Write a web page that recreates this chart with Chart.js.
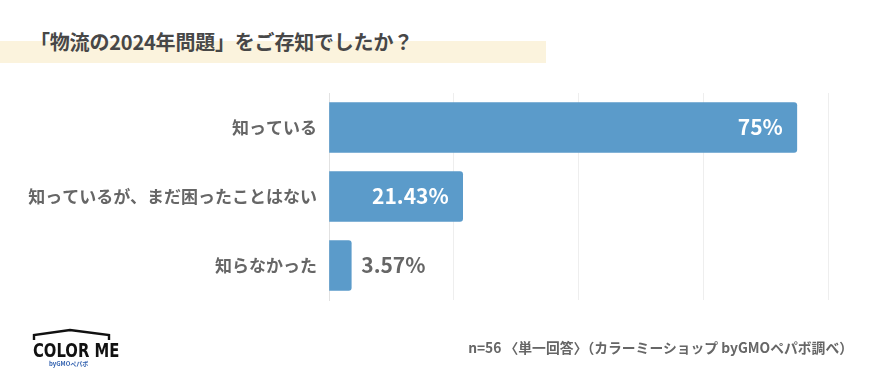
<!DOCTYPE html>
<html lang="ja">
<head>
<meta charset="utf-8">
<script src="https://cdn.jsdelivr.net/npm/chart.js@4/dist/chart.umd.min.js"></script>
<style>
    html, body {
        margin: 0;
        padding: 0;
        background: #ffffff;
    }

    #page {
        position: relative;
        width: 885px;
        height: 379px;
        overflow: hidden;
        font-family: "Noto Sans CJK JP", "Noto Sans", sans-serif;
    }

    #band {
        position: absolute;
        left: 0;
        top: 41px;
        width: 546px;
        height: 22px;
        background: #fbf3dd;
    }

    #title {
        position: absolute;
        left: 30px;
        top: 28px;
        font-size: 20px;
        font-weight: 700;
        color: #474747;
        white-space: nowrap;
        line-height: 28px;
        letter-spacing: -0.2px;
    }

    #chartBox {
        position: absolute;
        left: 0;
        top: 0;
        width: 885px;
        height: 379px;
    }

    #note {
        position: absolute;
        right: 32px;
        top: 337px;
        font-size: 13.8px;
        font-weight: 700;
        color: #666666;
        white-space: nowrap;
        line-height: 20px;
    }

    #logo {
        position: absolute;
        left: 30px;
        top: 327px;
        width: 86px;
        height: 40px;
    }

    #logo .name {
        position: absolute;
        left: 3px;
        top: 13px;
        font-family: "DejaVu Sans", sans-serif;
        font-size: 20px;
        font-weight: 700;
        color: #111111;
        line-height: 20px;
        white-space: nowrap;
        transform: scaleX(0.74);
        transform-origin: 0 0;
    }

    #logo .by {
        position: absolute;
        left: 19px;
        top: 33px;
        font-size: 6px;
        font-weight: 700;
        color: #2f5fae;
        line-height: 7px;
        white-space: nowrap;
    }
</style>
</head>
<body>
<div id="page">
    <div id="band"></div>
    <div id="title">「物流の2024年問題」をご存知でしたか？</div>

    <div id="chartBox"><canvas id="chart"></canvas></div>

    <div id="logo">
        <svg width="86" height="14" style="position:absolute;left:0;top:0">
            <polyline points="4,13 4,8 40,3 79,8 79,13" fill="none" stroke="#111" stroke-width="2.4"/>
        </svg>
        <div class="name">COLOR ME</div>
        <div class="by">byGMOペパボ</div>
    </div>

    <div id="note">n=56 〈単一回答〉（カラーミーショップ byGMOペパボ調べ）</div>
</div>

<script>
const categories = [
    "知っている",
    "知っているが、まだ困ったことはない",
    "知らなかった"
];

const percentValues = [75, 21.43, 3.57];

const gridTicks = [0, 20, 40, 60, 80];

const barColor = "#5b9bca";

// percentage labels at the bar ends: inside (white) when the bar is long enough
const barLabels = {
    id: "barLabels",

    afterDatasetsDraw(chart) {
        const ctx = chart.ctx;
        const meta = chart.getDatasetMeta(0);

        ctx.save();
        ctx.font = "700 21px 'Noto Sans CJK JP', 'Noto Sans', sans-serif";
        ctx.textBaseline = "middle";

        meta.data.forEach(function (bar, i) {
            const text = percentValues[i] + "%";
            const inside = (bar.x - bar.base) > ctx.measureText(text).width + 30;

            if (inside) {
                ctx.fillStyle = "#ffffff";
                ctx.textAlign = "right";
                ctx.fillText(text, bar.x - 14, bar.y);
            } else {
                ctx.fillStyle = "#666666";
                ctx.textAlign = "left";
                ctx.fillText(text, bar.x + 10, bar.y);
            }
        });

        ctx.restore();
    }
};

new Chart(document.getElementById("chart"), {
    type: "bar",

    data: {
        labels: categories,

        datasets: [
            {
                data: percentValues,
                backgroundColor: barColor,
                borderWidth: 0,
                borderRadius: 3,
                borderSkipped: "start",
                barThickness: 50
            }
        ]
    },

    options: {
        indexAxis: "y",
        responsive: true,
        maintainAspectRatio: false,
        animation: false,

        layout: {
            padding: {
                left: 15,
                right: 57,
                top: 93,
                bottom: 79
            }
        },

        plugins: {
            legend: {
                display: false
            },
            tooltip: {
                enabled: false
            }
        },

        scales: {
            x: {
                min: gridTicks[0],
                max: gridTicks[gridTicks.length - 1],
                afterBuildTicks(scale) {
                    scale.ticks = gridTicks.map(function (v) {
                        return { value: v };
                    });
                },
                afterFit(scale) {
                    scale.height = 0;
                },
                ticks: {
                    display: false
                },
                border: {
                    display: false
                },
                grid: {
                    color: "#eeeeee",
                    lineWidth: 1,
                    drawTicks: false
                }
            },

            y: {
                afterFit(scale) {
                    scale.width = 314;
                },
                ticks: {
                    color: "#666666",
                    padding: 12,
                    font: {
                        family: "'Noto Sans CJK JP', 'Noto Sans', sans-serif",
                        size: 17,
                        weight: "700"
                    }
                },
                border: {
                    display: true,
                    color: "#e2e2e2"
                },
                grid: {
                    display: false,
                    drawTicks: false
                }
            }
        }
    },

    plugins: [barLabels]
});
</script>
</body>
</html>
